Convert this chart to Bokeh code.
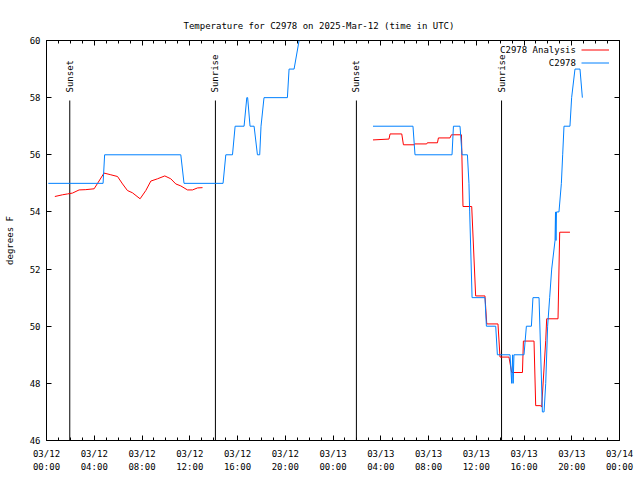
import numpy as np
from datetime import datetime, timezone
from bokeh.plotting import figure
from bokeh.models import (FixedTicker, DatetimeTickFormatter, LinearAxis, DatetimeAxis,
                          Range1d, Legend, LegendItem, CustomJSTickFormatter, Label)
from bokeh.embed import file_html
from bokeh.resources import INLINE
from bokeh.core.properties import value

# ---------------- data (hours since 2025-03-12 00:00 UTC) ----------------
TITLE = "Temperature for C2978 on 2025-Mar-12 (time in UTC)"
Y_LABEL = "degrees F"
SERIES_ANALYSIS = "C2978 Analysis"
SERIES_OBS = "C2978"

analysis_hours_a = [0.70, 1.34, 1.76, 2.18, 2.73, 3.29, 3.99, 4.82, 5.39, 5.95, 6.37, 6.78,
                    7.20, 7.84, 8.32, 8.74, 9.30, 9.91, 10.41, 10.83, 11.25, 11.81, 12.23,
                    12.65, 13.07]
analysis_temps_a = [54.54, 54.60, 54.63, 54.66, 54.77, 54.78, 54.81, 55.36, 55.30, 55.24,
                    54.98, 54.75, 54.67, 54.46, 54.75, 55.08, 55.16, 55.26, 55.16, 54.98,
                    54.91, 54.77, 54.77, 54.84, 54.85]

analysis_hours_b = [27.35, 28.69, 28.78, 29.76, 29.90, 30.79, 30.85, 31.85, 31.90, 32.75,
                    32.83, 33.80, 33.92, 34.76, 34.89, 35.62, 35.95, 36.73, 36.88, 37.82,
                    37.99, 38.74, 38.97, 39.87, 39.95, 40.84, 40.98, 41.40, 41.48, 41.82,
                    41.90, 42.85, 42.99, 43.85]
analysis_temps_b = [56.52, 56.55, 56.73, 56.73, 56.35, 56.35, 56.38, 56.38, 56.42, 56.42,
                    56.59, 56.59, 56.70, 56.70, 54.19, 54.19, 51.06, 51.06, 50.08, 50.08,
                    48.92, 48.92, 48.38, 48.38, 49.48, 49.48, 47.22, 47.22, 47.17, 49.50,
                    50.26, 50.26, 53.29, 53.29]

obs_hours_a = [0.15, 4.74, 4.87, 11.25, 11.52, 14.79, 15.02, 15.58, 15.80, 16.55, 16.78,
               16.85, 17.05, 17.39, 17.67, 17.86, 17.97, 18.22, 20.18, 20.32, 20.74, 21.16,
               21.38]
obs_temps_a = [55, 55, 56, 56, 55, 55, 56, 56, 57, 57, 58, 58, 57, 57, 56, 56, 57, 58, 58,
               59, 59, 60, 61]

obs_hours_b = [27.35, 30.70, 30.87, 33.97, 34.09, 34.64, 34.81, 35.26, 35.39, 35.45, 35.65,
               36.73, 36.85, 37.63, 37.77, 38.83, 38.97, 39.05, 39.09, 39.16, 40.00, 40.20,
               40.62, 40.75, 41.26, 41.54, 41.68, 41.82, 41.98, 42.15, 42.32, 42.60, 42.64,
               42.68, 42.72, 42.93, 43.13, 43.24, 43.35, 43.85, 43.99, 44.27, 44.69, 44.89]
obs_temps_b = [57, 57, 56, 56, 57, 57, 56, 56, 55, 54, 51, 51, 50, 50, 49, 49, 48, 49, 48,
               49, 49, 50, 50, 51, 51, 47, 47, 48, 50, 51, 52, 53, 54, 53, 54, 54, 55, 56,
               57, 57, 58, 59, 59, 58]

sun_names = ["Sunset", "Sunrise", "Sunset", "Sunrise"]
sun_hours = [1.95, 14.15, 25.96, 38.12]

Y_MIN, Y_MAX = 46, 60
X_SPAN_HOURS = 48
# ------------------------------------------------------------------------

BASE = datetime(2025, 3, 12, 0, 0, tzinfo=timezone.utc)
BASE_MS = BASE.timestamp() * 1000.0
HOUR_MS = 3600.0 * 1000.0


def to_ms(hours):
    return [BASE_MS + h * HOUR_MS if h == h else np.nan for h in hours]


nan = float("nan")
an_x = to_ms(analysis_hours_a + [nan] + analysis_hours_b)
an_y = analysis_temps_a + [nan] + analysis_temps_b
ob_x = to_ms(obs_hours_a + [nan] + obs_hours_b)
ob_y = obs_temps_a + [nan] + obs_temps_b

FONT = "DejaVu Sans Mono"
FS = "9px"

p = figure(width=640, height=480, x_axis_type="datetime",
           x_range=Range1d(BASE_MS, BASE_MS + X_SPAN_HOURS * HOUR_MS),
           y_range=Range1d(Y_MIN, Y_MAX),
           output_backend="svg", toolbar_location=None,
           min_border_left=46, min_border_right=21, min_border_top=40, min_border_bottom=40)

p.title.text = TITLE
p.title.text_font = FONT
p.title.text_font_size = FS
p.title.text_font_style = "normal"
p.title.text_color = "black"
p.title.align = "left"
p.title.offset = 137
p.title.standoff = 20

p.grid.visible = False
p.outline_line_color = "black"
p.outline_line_alpha = 1.0
p.outline_line_width = 1
p.background_fill_color = "white"
p.border_fill_color = "white"

major_x = [BASE_MS + h * HOUR_MS for h in range(0, X_SPAN_HOURS + 1, 4)]
minor_x = [BASE_MS + h * HOUR_MS for h in range(0, X_SPAN_HOURS + 1)]
x_ticker = FixedTicker(ticks=major_x, minor_ticks=minor_x)
y_ticker = FixedTicker(ticks=list(range(Y_MIN, Y_MAX + 1, 2)))
fmt_str = "%m/%d\n%H:%M"
x_fmt = DatetimeTickFormatter(milliseconds=fmt_str, seconds=fmt_str, minsec=fmt_str,
                              minutes=fmt_str, hourmin=fmt_str, hours=fmt_str,
                              days=fmt_str, months=fmt_str, years=fmt_str)
blank_fmt = CustomJSTickFormatter(code="return ''")


def style_axis(ax, labels=True):
    ax.axis_line_color = None
    ax.major_tick_in = 5
    ax.major_tick_out = 0
    ax.minor_tick_in = 3
    ax.minor_tick_out = 0
    ax.major_tick_line_color = "black"
    ax.minor_tick_line_color = "black"
    ax.major_label_text_font = FONT
    ax.major_label_text_font_size = FS
    ax.major_label_text_color = "black"
    ax.major_label_standoff = 7 if labels else 0
    ax.axis_label_text_font = FONT
    ax.axis_label_text_font_size = FS
    ax.axis_label_text_font_style = "normal"
    ax.axis_label_text_color = "black"


xa = p.xaxis[0]
xa.ticker = x_ticker
xa.formatter = x_fmt
style_axis(xa)
xa.major_label_standoff = 8
xa.major_label_text_line_height = 1.35

ya = p.yaxis[0]
ya.ticker = y_ticker
style_axis(ya)
ya.major_label_standoff = 6
ya.minor_tick_line_color = None
ya.axis_label = Y_LABEL
ya.axis_label_standoff = 12

top = DatetimeAxis(ticker=x_ticker, formatter=blank_fmt)
style_axis(top, labels=False)
p.add_layout(top, "above")
right = LinearAxis(ticker=y_ticker, formatter=blank_fmt)
style_axis(right, labels=False)
right.minor_tick_line_color = None
p.add_layout(right, "right")

# sunrise / sunset markers
sun_x = to_ms(sun_hours)
line_top = Y_MIN + 0.85 * (Y_MAX - Y_MIN)
label_y = Y_MIN + 0.87 * (Y_MAX - Y_MIN)
p.segment(x0=sun_x, x1=sun_x, y0=[Y_MIN] * len(sun_x), y1=[line_top] * len(sun_x),
          line_color="black", line_width=1)
p.text(x=sun_x, y=[label_y] * len(sun_x), text=sun_names, angle=np.pi / 2,
       text_align="left", text_baseline="middle", text_font=value(FONT),
       text_font_size=FS, text_color="black")

r_an = p.line(an_x, an_y, line_color="#ff0000", line_width=1)
r_ob = p.line(ob_x, ob_y, line_color="#0080ff", line_width=1)

# gnuplot-style key: right-aligned text, then the line sample on its right
legend = Legend(items=[LegendItem(label=value(" "), renderers=[r_an]),
                       LegendItem(label=value(" "), renderers=[r_ob])],
                location=(535, 371))
legend.border_line_color = None
legend.background_fill_alpha = 0
legend.label_text_font = FONT
legend.label_text_font_size = FS
legend.glyph_width = 28
legend.glyph_height = 13
legend.label_height = 13
legend.label_width = 0
legend.spacing = 0
legend.padding = 1
legend.margin = 0
legend.label_standoff = 0
p.add_layout(legend)

key_names = [SERIES_ANALYSIS, SERIES_OBS]
key_x_hours = 44.35
for i, name in enumerate(key_names):
    lab = Label(x=BASE_MS + key_x_hours * HOUR_MS,
                y=Y_MAX - (9.5 + 13 * i) / 400.0 * (Y_MAX - Y_MIN),
                text=name, text_align="right", text_baseline="middle",
                text_font=FONT, text_font_size=FS, text_color="black")
    p.add_layout(lab)

open("out.html", "w").write(file_html(p, INLINE))
